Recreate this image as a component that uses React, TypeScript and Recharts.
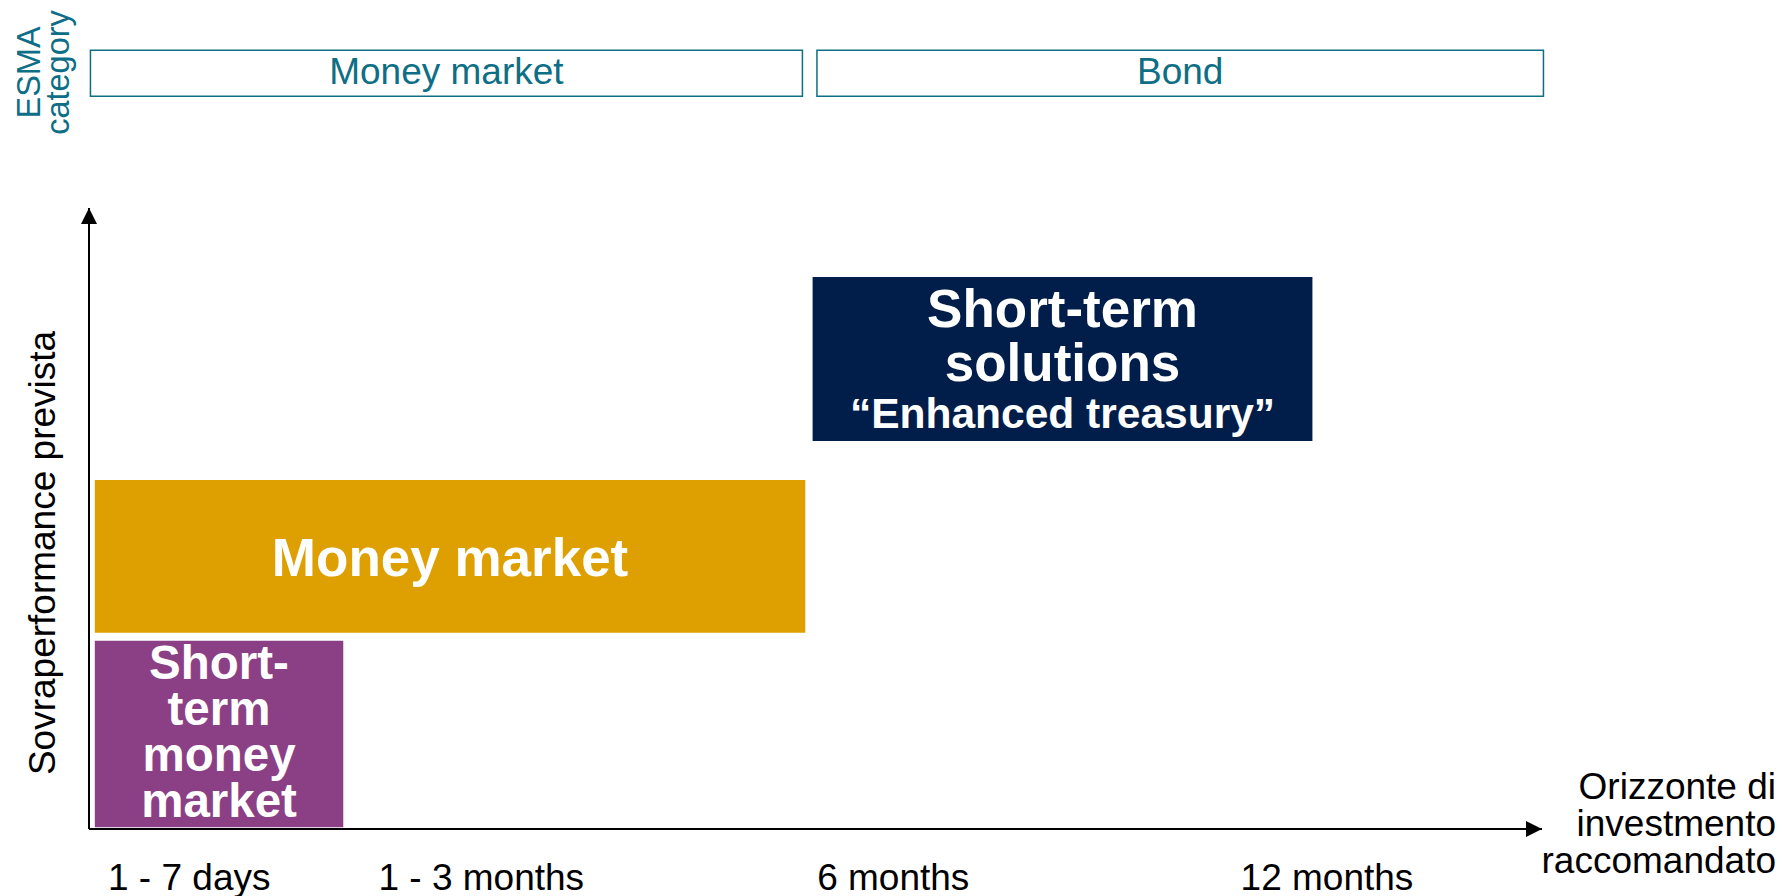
import React from 'react';
import { ComposedChart, XAxis, YAxis, ReferenceArea, Label } from 'recharts';

const FONT = '"Liberation Sans", Arial, Helvetica, sans-serif';
const TEAL = '#0E6E85';

// x axis: recommended investment horizon (relative position on the axis)
const horizonTicks = [6.9, 27.0, 55.35, 85.2];
const horizonLabels = ['1 - 7 days', '1 - 3 months', '6 months', '12 months'];

// ESMA category bands above the plot
const esmaNames = ['Money market', 'Bond'];
const esmaFrom = [0.1, 50.1];
const esmaTo = [49.1, 100.1];
const esmaLow = [118.0, 118.0];
const esmaHigh = [125.4, 125.4];

// product boxes: horizon range (x) and expected outperformance range (y)
const productLines = [
    ['Short-', 'term', 'money', 'market'],
    ['Money market'],
    ['Short-term', 'solutions', '\u201CEnhanced treasury\u201D'],
];
const productXFrom = [0.4, 0.4, 49.8];
const productXTo = [17.5, 49.3, 84.2];
const productYFrom = [0.3, 31.6, 62.5];
const productYTo = [30.3, 56.2, 88.9];

const productStyle = [
    { fill: '#8B4086', sizes: [47.5, 47.5, 47.5, 47.5], offsets: [-71.5, -25.5, 20.5, 66.5] },
    { fill: '#DDA000', sizes: [53], offsets: [1] },
    { fill: '#011E4B', sizes: [53, 53, 42.5], offsets: [-50, 3.5, 54.5] },
];

const BoxText = (props: any) => {
    const { viewBox, lines, sizes, offsets, color, bold } = props;
    const { x, y, width, height } = viewBox;
    const cx = x + width / 2;
    const cy = y + height / 2;
    return (
        <g>
            {lines.map((t: string, i: number) => (
                <text
                    key={i}
                    x={cx}
                    y={cy + offsets[i]}
                    textAnchor="middle"
                    dominantBaseline="central"
                    fill={color}
                    fontFamily={FONT}
                    fontWeight={bold ? 'bold' : 'normal'}
                    fontSize={sizes[i]}
                >
                    {t}
                </text>
            ))}
        </g>
    );
};

const HorizonTick = (props: any) => {
    const { x, y, payload } = props;
    const idx = horizonTicks.indexOf(payload.value);
    return (
        <text x={x} y={y + 60.5} textAnchor="middle" fill="#000" fontFamily={FONT} fontSize={37}>
            {horizonLabels[idx]}
        </text>
    );
};

const YTitle = () => (
    <text
        x={42}
        y={553}
        transform="rotate(-90 42 553)"
        textAnchor="middle"
        dominantBaseline="central"
        fill="#000"
        fontFamily={FONT}
        fontSize={37}
    >
        Sovraperformance prevista
    </text>
);

const EsmaTitle = () => (
    <g fill={TEAL} fontFamily={FONT} fontSize={32.5}>
        <text x={29} y={72.5} transform="rotate(-90 29 72.5)" textAnchor="middle" dominantBaseline="central">
            ESMA
        </text>
        <text x={57.5} y={72.5} transform="rotate(-90 57.5 72.5)" textAnchor="middle" dominantBaseline="central">
            category
        </text>
    </g>
);

const XTitle = () => (
    <g fill="#000" fontFamily={FONT} fontSize={37} textAnchor="end">
        <text x={1776} y={799}>Orizzonte di</text>
        <text x={1776} y={836}>investmento</text>
        <text x={1776} y={873}>raccomandato</text>
    </g>
);

export default function App() {
    return (
        <div style={{ position: 'absolute', left: 0, top: 0, width: 1782, height: 896, background: '#fff' }}>
            <ComposedChart
                width={1782}
                height={896}
                margin={{ top: 208, right: 240, bottom: 47, left: 69 }}
            >
                <defs>
                    <marker
                        id="arrowHead"
                        viewBox="0 0 10 10"
                        refX="10"
                        refY="5"
                        markerWidth="16"
                        markerHeight="16"
                        markerUnits="userSpaceOnUse"
                        orient="auto-start-reverse"
                    >
                        <path d="M0,0 L10,5 L0,10 z" fill="#000" />
                    </marker>
                </defs>
                <XAxis
                    type="number"
                    dataKey="x"
                    domain={[0, 100]}
                    allowDataOverflow
                    ticks={horizonTicks}
                    interval={0}
                    height={20}
                    tickLine={false}
                    tickSize={0}
                    tickMargin={0}
                    tick={<HorizonTick />}
                    axisLine={{ stroke: '#000', strokeWidth: 2, markerEnd: 'url(#arrowHead)' }}
                >
                    <Label content={<XTitle />} />
                </XAxis>
                <YAxis
                    type="number"
                    dataKey="y"
                    domain={[0, 100]}
                    allowDataOverflow
                    width={20}
                    tick={false}
                    tickLine={false}
                    axisLine={{ stroke: '#000', strokeWidth: 2, markerStart: 'url(#arrowHead)' }}
                >
                    <Label content={<YTitle />} />
                    <Label content={<EsmaTitle />} />
                </YAxis>

                {esmaNames.map((name, i) => (
                    <ReferenceArea
                        key={name}
                        x1={esmaFrom[i]}
                        x2={esmaTo[i]}
                        y1={esmaLow[i]}
                        y2={esmaHigh[i]}
                        ifOverflow="visible"
                        fill="#fff"
                        fillOpacity={1}
                        stroke={TEAL}
                        strokeWidth={1.5}
                        label={<BoxText lines={[name]} sizes={[37]} offsets={[-1.5]} color={TEAL} />}
                    />
                ))}

                {productLines.map((lines, i) => (
                    <ReferenceArea
                        key={i}
                        x1={productXFrom[i]}
                        x2={productXTo[i]}
                        y1={productYFrom[i]}
                        y2={productYTo[i]}
                        ifOverflow="visible"
                        fill={productStyle[i].fill}
                        fillOpacity={1}
                        stroke="none"
                        label={
                            <BoxText
                                lines={lines}
                                sizes={productStyle[i].sizes}
                                offsets={productStyle[i].offsets}
                                color="#fff"
                                bold
                            />
                        }
                    />
                ))}
            </ComposedChart>
        </div>
    );
}
